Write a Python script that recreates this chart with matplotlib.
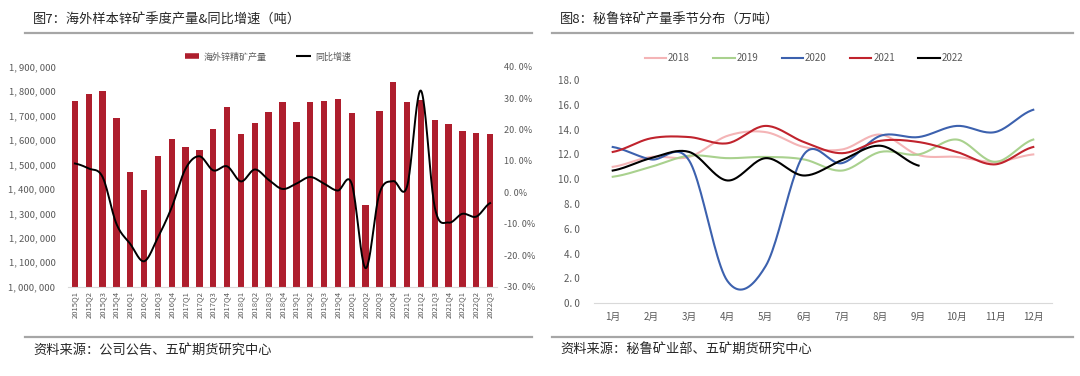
import numpy as np
import matplotlib
matplotlib.use("Agg")
import matplotlib.pyplot as plt
from matplotlib.lines import Line2D

plt.rcParams['font.family'] = ['Noto Sans CJK SC', 'DejaVu Sans']

# 图7 数据
quarters = ['2015Q1', '2015Q2', '2015Q3', '2015Q4', '2016Q1', '2016Q2', '2016Q3', '2016Q4',
            '2017Q1', '2017Q2', '2017Q3', '2017Q4', '2018Q1', '2018Q2', '2018Q3', '2018Q4',
            '2019Q1', '2019Q2', '2019Q3', '2019Q4', '2020Q1', '2020Q2', '2020Q3', '2020Q4',
            '2021Q1', '2021Q2', '2021Q3', '2021Q4', '2022Q1', '2022Q2', '2022Q3']
output = [1760000, 1787000, 1802000, 1689000, 1471000, 1396000, 1533000, 1603000,
          1572000, 1559000, 1646000, 1737000, 1626000, 1671000, 1713000, 1757000,
          1673000, 1754000, 1761000, 1769000, 1709000, 1334000, 1719000, 1836000,
          1754000, 1764000, 1682000, 1664000, 1638000, 1630000, 1626000]
yoy = [9.2, 7.6, 4.9, -10.0, -16.4, -21.9, -14.3, -4.7,
       7.6, 11.5, 7.0, 8.3, 3.5, 7.3, 4.0, 1.1,
       2.8, 4.9, 2.8, 0.6, 2.8, -24.1, -0.4, 3.6,
       1.9, 32.4, -4.7, -9.6, -6.8, -7.7, -3.4]

# 图8 数据（万吨）
months = ['1月', '2月', '3月', '4月', '5月', '6月', '7月', '8月', '9月', '10月', '11月', '12月']
peru_2018 = [11.0, 11.8, 11.8, 13.5, 13.8, 12.6, 12.4, 13.6, 11.95, 11.8, 11.4, 12.0]
peru_2019 = [10.2, 11.0, 11.9, 11.7, 11.8, 11.6, 10.7, 12.2, 12.0, 13.2, 11.4, 13.2]
peru_2020 = [12.6, 11.6, 11.5, 1.8, 3.0, 12.0, 11.3, 13.5, 13.4, 14.3, 13.8, 15.6]
peru_2021 = [12.2, 13.3, 13.4, 12.9, 14.3, 13.0, 12.1, 13.1, 13.0, 12.2, 11.2, 12.6]
peru_2022 = [10.7, 11.7, 12.2, 9.9, 11.7, 10.3, 11.55, 12.7, 11.1]


def smooth(y, n=24):
    # 类似 Excel 的平滑线
    y = np.asarray(y, dtype=float)
    yp = np.concatenate([[y[0]], y, [y[-1]]])
    xs, ys = [], []
    t = np.linspace(0, 1, n)
    for i in range(len(y) - 1):
        p0, p1, p2, p3 = yp[i], yp[i + 1], yp[i + 2], yp[i + 3]
        m1, m2 = (p2 - p0) / 2, (p3 - p1) / 2
        h00 = 2 * t**3 - 3 * t**2 + 1
        h10 = t**3 - 2 * t**2 + t
        h01 = -2 * t**3 + 3 * t**2
        h11 = t**3 - t**2
        xs.append(i + t)
        ys.append(h00 * p1 + h10 * m1 + h01 * p2 + h11 * m2)
    return np.concatenate(xs), np.concatenate(ys)


W, H = 1080, 376
fig = plt.figure(figsize=(10.8, 3.76), dpi=100)

tick_c = '#595959'
red = '#AE1E2D'
grey_line = '#A6A6A6'


def fx(px):
    return px / W


def fy(py):
    return 1 - py / H


# ---- 头尾装饰 ----
for x0, x1, title, src in [(25, 532, '图7：海外样本锌矿季度产量&同比增速（吨）', '资料来源：公司公告、五矿期货研究中心'),
                           (552, 1073, '图8：秘鲁锌矿产量季节分布（万吨）', '资料来源：秘鲁矿业部、五矿期货研究中心')]:
    fig.add_artist(Line2D([fx(x0), fx(x1)], [fy(33), fy(33)], color=grey_line, lw=1.6))
    fig.add_artist(Line2D([fx(x0), fx(x1)], [fy(337), fy(337)], color=grey_line, lw=1.6))
    fig.text(fx(x0 + 8), fy(20), title, fontsize=9.5, color='#262626', va='center')
    fig.text(fx(x0 + 8), fy(350), src, fontsize=9.5, color='#262626', va='center')

# ---- 图7 ----
ax1 = fig.add_axes([fx(68), fy(286.7), fx(497 - 68), (286.7 - 66.7) / H])
xq = np.arange(len(quarters))
ax1.bar(xq, output, width=0.46, color=red, zorder=2)
ax1.set_xlim(-0.5, len(quarters) - 0.5)
ax1.set_ylim(1000000, 1900000)
ax1.set_yticks(np.arange(1000000, 1900001, 100000))
ax1.yaxis.set_major_formatter(matplotlib.ticker.FuncFormatter(lambda v, p: '{:,.0f}'.format(v).replace(',', ', ')))
ax1.set_xticks(xq)
ax1.set_xticklabels(quarters, rotation=90, fontsize=5.5, color=tick_c)
ax1.tick_params(axis='y', labelsize=6.8, colors=tick_c, length=0, pad=9)
ax1.tick_params(axis='x', length=0, pad=3)
for s in ['top', 'right', 'left']:
    ax1.spines[s].set_visible(False)
ax1.spines['bottom'].set_color('#D9D9D9')

ax2 = ax1.twinx()
sx, sy = smooth(yoy)
ax2.plot(sx, sy, color='black', lw=1.4, zorder=3)
ax2.set_ylim(-30, 40)
ax2.set_yticks(np.arange(-30, 41, 10))
ax2.yaxis.set_major_formatter(matplotlib.ticker.FuncFormatter(lambda v, p: '{:.1f}%'.format(v).replace('.', '. ')))
ax2.tick_params(axis='y', labelsize=6.5, colors=tick_c, length=0, pad=5)
for s in ax2.spines.values():
    s.set_visible(False)

h1 = [Line2D([], [], color=red, lw=4, solid_capstyle='butt'),
      Line2D([], [], color='black', lw=1.5, solid_capstyle='butt')]
fig.legend(h1, ['海外锌精矿产量', '同比增速'], loc='center', bbox_to_anchor=(fx(268), fy(57)),
           ncol=2, frameon=False, fontsize=6.5, handlelength=1.6, handletextpad=0.5,
           columnspacing=3.3, labelcolor=tick_c)

# ---- 图8 ----
ax3 = fig.add_axes([fx(593.6), fy(303.3), fx(1052.4 - 593.6), (303.3 - 80) / H])
series = [(peru_2018, '2018', '#F4B4B6'), (peru_2019, '2019', '#A9D18E'),
          (peru_2020, '2020', '#3C61AE'), (peru_2021, '2021', '#C0232D'),
          (peru_2022, '2022', '#000000')]
for vals, lab, col in series:
    sx, sy = smooth(vals)
    ax3.plot(sx, sy, color=col, lw=1.5, label=lab)
ax3.set_xlim(-0.5, 11.5)
ax3.set_ylim(0, 18)
ax3.set_yticks(np.arange(0, 18.1, 2))
ax3.yaxis.set_major_formatter(matplotlib.ticker.FuncFormatter(lambda v, p: '{:.1f}'.format(v).replace('.', '. ')))
ax3.set_xticks(np.arange(len(months)))
ax3.set_xticklabels(months)
ax3.tick_params(axis='y', labelsize=7, colors=tick_c, length=0, pad=10)
ax3.tick_params(axis='x', labelsize=7, colors=tick_c, length=0, pad=6)
for s in ['top', 'right', 'left']:
    ax3.spines[s].set_visible(False)
ax3.spines['bottom'].set_color('#D9D9D9')
fig.legend(*ax3.get_legend_handles_labels(), loc='center', bbox_to_anchor=(fx(804), fy(58)),
           ncol=5, frameon=False, fontsize=7, handlelength=2.2, handletextpad=0.2,
           columnspacing=2.4, labelcolor=tick_c)

fig.savefig('out.png', dpi=100)
